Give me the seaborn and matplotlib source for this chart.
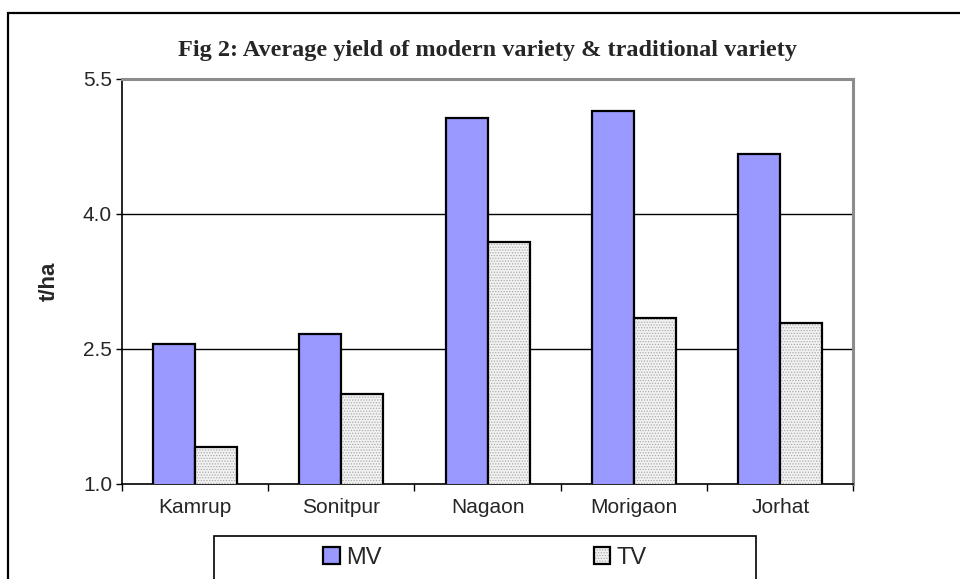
import pandas as pd
import seaborn as sns
import matplotlib.pyplot as plt
import matplotlib.colors as mcolors
from matplotlib.patches import Rectangle, Patch

# values
districts = ["Kamrup", "Sonitpur", "Nagaon", "Morigaon", "Jorhat"]
mv_yield = [2.56, 2.67, 5.07, 5.14, 4.67]
tv_yield = [1.41, 2.00, 3.69, 2.84, 2.79]
y_ticks = [1.0, 2.5, 4.0, 5.5]

df = pd.DataFrame({
    "district": districts * 2,
    "variety": ["MV"] * len(districts) + ["TV"] * len(districts),
    "yield": mv_yield + tv_yield,
})

sns.set_style("white")
plt.rcParams["font.family"] = ["Liberation Sans", "DejaVu Sans"]
plt.rcParams["hatch.linewidth"] = 0.6

fig = plt.figure(figsize=(9.6, 5.79), dpi=100)
ax = fig.add_axes([0.1268, 0.1641, 0.7622, 0.6995])

sns.barplot(data=df, x="district", y="yield", hue="variety", order=districts,
            palette={"MV": "#9999FF", "TV": "#F2F2F2"}, saturation=1, width=0.574,
            edgecolor="black", linewidth=1.6, legend=False, ax=ax, zorder=3)

# dotted fill for the traditional variety
for p in ax.containers[1]:
    p.set_hatch("......")
    p._hatch_color = mcolors.to_rgba("#AAAAAA")

ax.set_ylim(1.0, 5.5)
ax.set_xlim(-0.5, 4.5)
ax.set_yticks(y_ticks)
ax.set_yticklabels([f"{v:.1f}" for v in y_ticks], fontsize=15)
ax.tick_params(axis="y", direction="out", length=4, width=1, color="black", left=True, pad=3)
ax.set_xticks(range(len(districts)))
ax.set_xticklabels(districts, fontsize=15)
ax.set_xticks([i - 0.5 for i in range(len(districts) + 1)], minor=True)
ax.tick_params(axis="x", which="major", length=0, pad=10)
ax.tick_params(axis="x", which="minor", direction="out", length=5, width=1, color="black", bottom=True)

for v in y_ticks[1:3]:
    ax.axhline(v, color="black", lw=1, zorder=1)

for side in ["left", "bottom"]:
    ax.spines[side].set_color("black")
    ax.spines[side].set_linewidth(1.2)
for side in ["top", "right"]:
    ax.spines[side].set_color("#8C8C8C")
    ax.spines[side].set_linewidth(2.2)

ax.set_xlabel("")
ax.set_ylabel("t/ha", fontsize=16, fontweight="bold", labelpad=17)

fig.text(0.508, 0.912, "Fig 2: Average yield of modern variety & traditional variety",
         ha="center", va="center", fontsize=17.5, fontweight="bold",
         family=["Liberation Serif", "DejaVu Serif"])

# outer chart frame (runs off the right and bottom edges)
fig.patches.append(Rectangle((8 / 960, -0.05), 1.1, 0.9775 + 0.05, transform=fig.transFigure,
                             fill=False, edgecolor="black", lw=1.6, zorder=0))

# legend box
fig.patches.append(Rectangle((214 / 960, 1 - 583 / 579), 542 / 960, 47 / 579,
                             transform=fig.transFigure, facecolor="white",
                             edgecolor="black", lw=1.2, zorder=1))
handles = [Patch(facecolor="#9999FF", edgecolor="black", lw=1.6, label="MV"),
           Patch(facecolor="#F2F2F2", edgecolor="black", lw=1.6, hatch="......", label="TV")]
handles[1]._hatch_color = mcolors.to_rgba("#AAAAAA")
fig.legend(handles=handles, loc="center", bbox_to_anchor=(0.505, 1 - 558 / 579), ncol=2,
           frameon=False, fontsize=17, handlelength=0.7, handleheight=0.7,
           handletextpad=0.25, columnspacing=9)

plt.savefig("out.png", dpi=100)
